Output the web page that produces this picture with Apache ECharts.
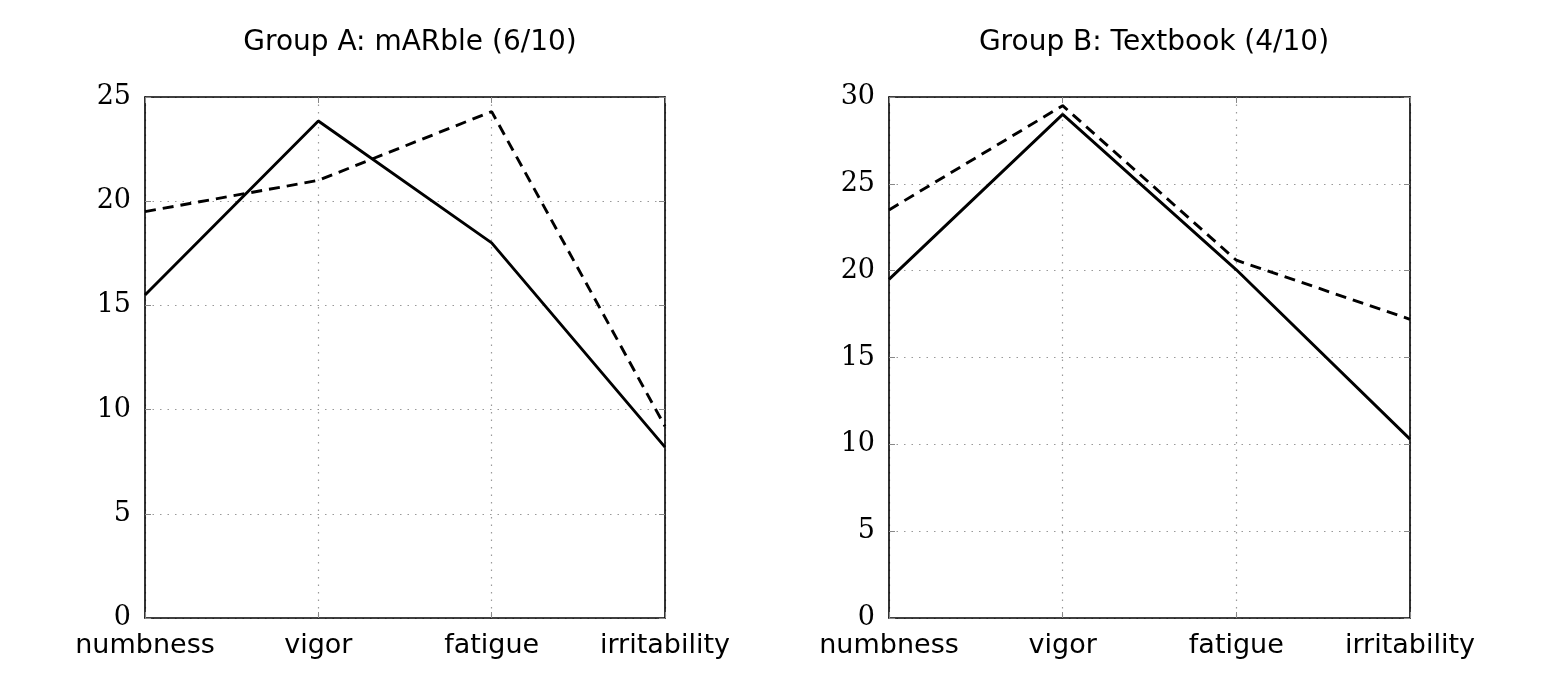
<!DOCTYPE html>
<html><head><meta charset="utf-8">
<script src="https://cdn.jsdelivr.net/npm/echarts@6/dist/echarts.min.js"></script>
<style>html,body{margin:0;padding:0;background:#fff}#c{width:1553px;height:685px}</style>
</head><body><div id="c"></div>
<script>
const categories = ['numbness', 'vigor', 'fatigue', 'irritability'];
const titleA = 'Group A: mARble (6/10)';
const titleB = 'Group B: Textbook (4/10)';
const groupASolid = [15.5, 23.85, 18.0, 8.2];
const groupADashed = [19.5, 21.0, 24.3, 9.2];
const groupBSolid = [19.5, 29.0, 20.05, 10.3];
const groupBDashed = [23.5, 29.5, 20.6, 17.2];
const yMaxA = 25, yMaxB = 30, yStep = 5;

const chart = echarts.init(document.getElementById('c'), null, {renderer: 'canvas'});
const sans = 'DejaVu Sans';
const serif = 'DejaVu Serif';
const grids = [
  {left: 145, right: 888, top: 97, bottom: 67},
  {left: 889, right: 143, top: 97, bottom: 67}
];
function xAx(gi, pos, labels) {
  return {
    type: 'category', gridIndex: gi, data: categories, boundaryGap: false, position: pos,
    axisLine: {show: true, onZero: false, lineStyle: {color: '#000', width: 1.6}},
    axisTick: {show: true, inside: true, length: 6, interval: 0, lineStyle: {color: '#888', width: 1}},
    axisLabel: {show: labels, interval: 0, hideOverlap: false, color: '#000', fontFamily: sans, fontSize: 27, margin: 14},
    splitLine: {show: labels, interval: 0, lineStyle: {color: '#999', type: [1.5, 6], width: 1.2}}
  };
}
function yAx(gi, max, pos, labels) {
  return {
    type: 'value', gridIndex: gi, min: 0, max: max, interval: yStep, position: pos,
    axisLine: {show: true, onZero: false, lineStyle: {color: '#000', width: 1.6}},
    axisTick: {show: true, inside: true, length: 6, lineStyle: {color: '#888', width: 1}},
    axisLabel: {show: labels, color: '#000', fontFamily: serif, fontSize: 27, margin: 14},
    splitLine: {show: labels, lineStyle: {color: '#999', type: [1.5, 6], width: 1.2}}
  };
}
function line(data, xi, yi, dashed) {
  return {
    type: 'line', data: data, xAxisIndex: xi, yAxisIndex: yi, symbol: 'none',
    lineStyle: {color: '#000', width: 2.9, type: dashed ? [11, 7] : 'solid'},
    silent: true, animation: false
  };
}
chart.setOption({
  animation: false,
  title: [
    {text: titleA, left: 405, top: 24, textAlign: 'center',
     textStyle: {fontFamily: sans, fontSize: 28, fontWeight: 'normal', color: '#000'}},
    {text: titleB, left: 1149, top: 24, textAlign: 'center',
     textStyle: {fontFamily: sans, fontSize: 28, fontWeight: 'normal', color: '#000'}}
  ],
  grid: grids,
  xAxis: [xAx(0, 'bottom', true), xAx(1, 'bottom', true), xAx(0, 'top', false), xAx(1, 'top', false)],
  yAxis: [yAx(0, yMaxA, 'left', true), yAx(1, yMaxB, 'left', true), yAx(0, yMaxA, 'right', false), yAx(1, yMaxB, 'right', false)],
  series: [
    line(groupASolid, 0, 0, false),
    line(groupADashed, 0, 0, true),
    line(groupBSolid, 1, 1, false),
    line(groupBDashed, 1, 1, true)
  ]
});
</script></body></html>
